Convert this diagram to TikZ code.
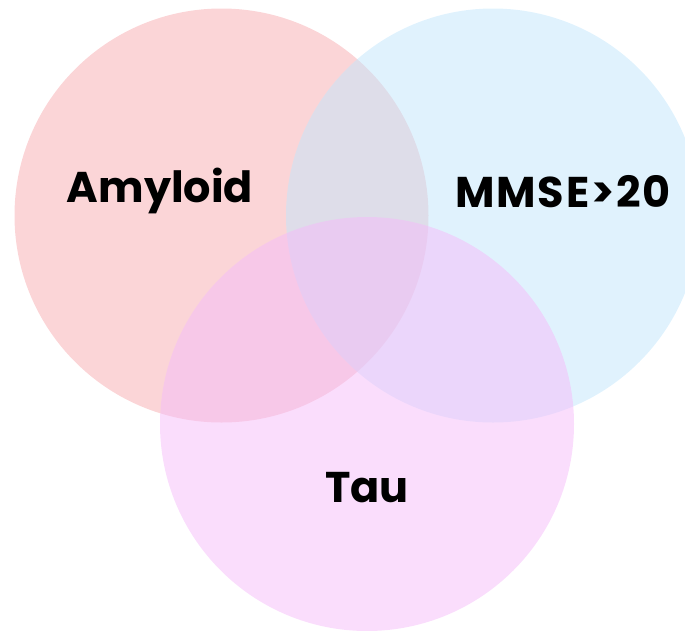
\documentclass[tikz,border=0pt]{standalone}
\usepackage{fontspec}
\setmainfont{Poppins}[BoldFont={Poppins Bold}]
\usetikzlibrary{positioning}
\definecolor{amyred}{RGB}{247,172,176}
\definecolor{mmseblue}{RGB}{194,230,252}
\definecolor{taupink}{RGB}{245,187,249}
\tikzset{set/.style={fill opacity=.5, draw=none},
  setlabel/.style={font=\bfseries\fontsize{43}{47}\selectfont, text=black, inner sep=0pt}
}
\begin{document}
\begin{tikzpicture}[x=1pt,y=-1pt]
    \useasboundingbox (0,0) rectangle (685,630);

    \coordinate (amyloid) at (221.5,215.5);
    \coordinate (mmse) at (493,215.5);
    \coordinate (tau) at (367,424);

    \fill[set, amyred] (amyloid) circle[radius=207];
    \fill[set, mmseblue] (mmse) circle[radius=207];
    \fill[set, taupink] (tau) circle[radius=207];

    \node[setlabel] (amyloid label) at (160,191) {Amyloid};
    \node[setlabel, font=\bfseries\addfontfeatures{LetterSpace=4}\fontsize{43}{47}\selectfont] (mmse label) at (563,192) {MMSE>20};
    \node[setlabel] (tau label) at (367,488) {Tau};
  \end{tikzpicture}
\end{document}
